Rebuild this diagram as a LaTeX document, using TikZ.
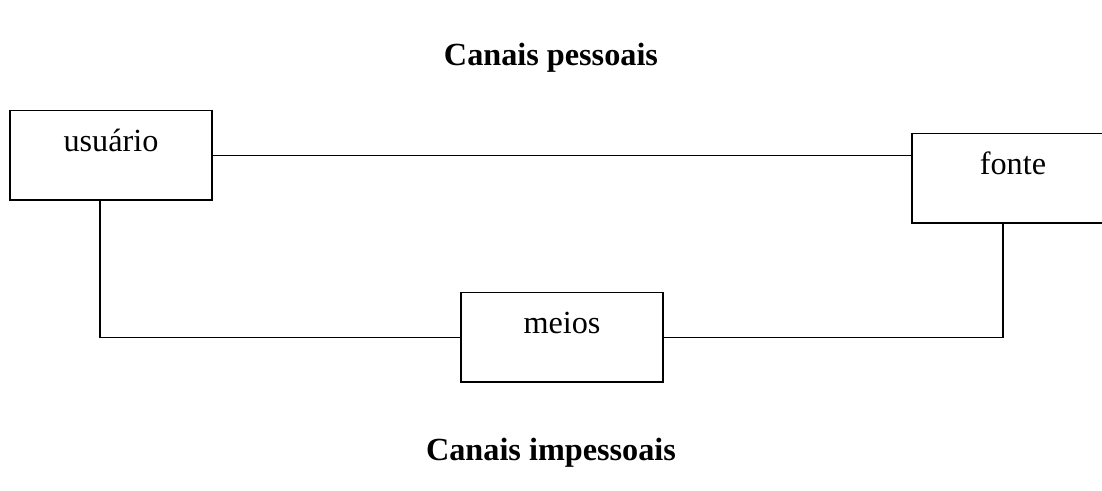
\documentclass[tikz,border=0pt]{standalone}
\usepackage{fontspec}
\setmainfont{Liberation Serif}
\tikzset{
  caixa/.style={draw, line width=0.6pt, inner sep=0pt, minimum width=81.5pt,
    text height=16.3pt, text depth=19.8pt, font=\fontsize{13}{15}\selectfont},
  titulo/.style={anchor=base, font=\fontsize{13}{15}\selectfont\bfseries}
}
\begin{document}
\begin{tikzpicture}[x=0.01417cm, y=-0.01417cm]
\clip (0,0) rectangle (1102,491);
\node[titulo] (pessoais) at(551,65) {Canais pessoais};
\node[caixa, anchor=base] (usuario) at(111,151) {usuário};
\node[caixa, anchor=base] (fonte) at(1013,174) {fonte};
\node[caixa, anchor=base] (meios) at(562,333) {meios};
\node[titulo] (impessoais) at(551,460) {Canais impessoais};
\draw[line width=0.6pt] (usuario.east) -- (usuario.east -| fonte.west);
\draw[line width=0.6pt] ([xshift=-4.4pt]usuario.south) |- (meios.west);
\draw[line width=0.6pt] (meios.east) -| ([xshift=-4pt]fonte.south);
\end{tikzpicture}
\end{document}
